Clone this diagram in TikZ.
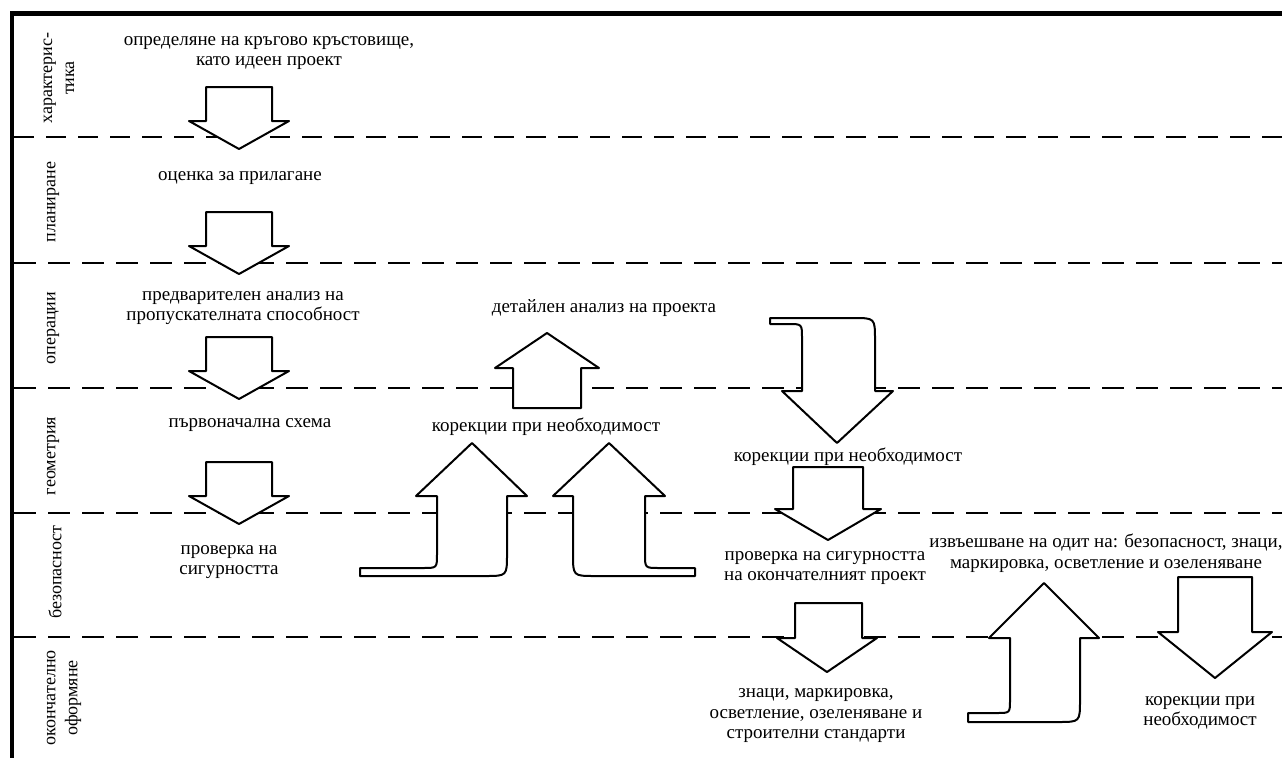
\documentclass[tikz,border=0pt]{standalone}
\usepackage{fontspec}
\setmainfont{Liberation Serif}

\begin{document}
\begin{tikzpicture}[x=1pt,y=-1pt,font=\fontsize{19}{20.5}\selectfont,
    lane/.style={line width=1.3pt,dash pattern=on 22pt off 12pt},
    hollow/.style={draw,fill=white,line width=2pt,line join=round},
    txt/.style={align=center,inner sep=1pt},
    lanename/.style={rotate=90,align=center,inner sep=1pt,font=\fontsize{18}{22}\selectfont}]

    \useasboundingbox (0,0) rectangle (1282,758);

    \draw[line width=5pt] (10,13) -- (1282,13);
    \draw[line width=4pt] (12,11) -- (12,758);
    \draw[lane,line width=2.6pt,dash pattern=on 20pt off 12pt] (14,137) -- (1282,137);
    \foreach \y in {263,388,513,637}
        \draw[lane] (14,\y) -- (1282,\y);

    \node[lanename] (lchar) at (59,78) {характерис-\\тика};
    \node[lanename] (lplan) at (53,202) {планиране};
    \node[lanename] (lops) at (53,328) {операции};
    \node[lanename] (lgeo) at (53,456) {геометрия};
    \node[lanename] (lsafe) at (55,572) {безопасност};
    \node[lanename] (lfinal) at (64,698) {окончателно\\оформяне};

    \foreach \t in {87,212,337,462}
        \draw[hollow] (206,\t) -- (272,\t) -- (272,\t+34) -- (289,\t+34)
            -- (239,\t+62) -- (189,\t+34) -- (206,\t+34) -- cycle;

    \draw[hollow] (513,408) -- (513,368) -- (495,368) -- (547,333)
        -- (599,368) -- (581,368) -- (581,408) -- cycle;
    \draw[hollow] (360,568) -- (423,568) .. controls (437,568) .. (437,554)
        -- (437,496) -- (416,496) -- (472,443) -- (527,496) -- (507,496)
        -- (507,554) .. controls (507,576) .. (485,576) -- (360,576) -- cycle;
    \draw[hollow] (695,568) -- (659,568) .. controls (645,568) .. (645,554)
        -- (645,496) -- (665,496) -- (609,443) -- (553,496) -- (573,496)
        -- (573,554) .. controls (573,576) .. (595,576) -- (695,576) -- cycle;

    \draw[hollow] (770,318) -- (853,318) .. controls (875,318) .. (875,340)
        -- (875,391) -- (893,391) -- (837,443) -- (782,391) -- (802,391)
        -- (802,338) .. controls (802,324) .. (788,324) -- (770,324) -- cycle;
    \draw[hollow] (793,467) -- (863,467) -- (863,509) -- (881,509)
        -- (828,540) -- (775,509) -- (793,509) -- cycle;
    \draw[hollow] (795,603) -- (862,603) -- (862,638) -- (877,638)
        -- (827,672) -- (777,638) -- (795,638) -- cycle;

    \draw[hollow] (968,713) -- (997,713) .. controls (1010,713) .. (1010,700)
        -- (1010,638) -- (989,638) -- (1044,583) -- (1099,638) -- (1080,638)
        -- (1080,700) .. controls (1080,722) .. (1058,722) -- (968,722) -- cycle;
    \draw[hollow] (1178,577) -- (1252,577) -- (1252,632) -- (1272,632)
        -- (1215,678) -- (1158,632) -- (1178,632) -- cycle;

    \node[txt] (idea) at (269,53) {определяне на кръгово кръстовище,\\като идеен проект};
    \node[txt] (apply) at (240,178) {оценка за прилагане};
    \node[txt] (capac) at (243,308) {предварителен анализ на\\пропускателната способност};
    \node[txt] (scheme) at (250,425) {първоначална схема};
    \node[txt] (check) at (229,562) {проверка на\\сигурността};
    \node[txt] (detail) at (604,308) {детайлен анализ на проекта};
    \node[txt] (fixa) at (546,427) {корекции при необходимост};
    \node[txt] (fixb) at (848,457) {корекции при необходимост};
    \node[txt] (final) at (825,568) {проверка на сигурността\\на окончателният проект};
    \node[txt] (audit) at (1106,553) {извъешване на одит на: безопасност, знаци,\\маркировка, осветление и озеленяване};
    \node[txt] (signs) at (816,716) {знаци, маркировка,\\осветление, озеленяване и\\строителни стандарти};
    \node[txt] (fixc) at (1200,713) {корекции при\\необходимост};

\end{tikzpicture}
\end{document}
